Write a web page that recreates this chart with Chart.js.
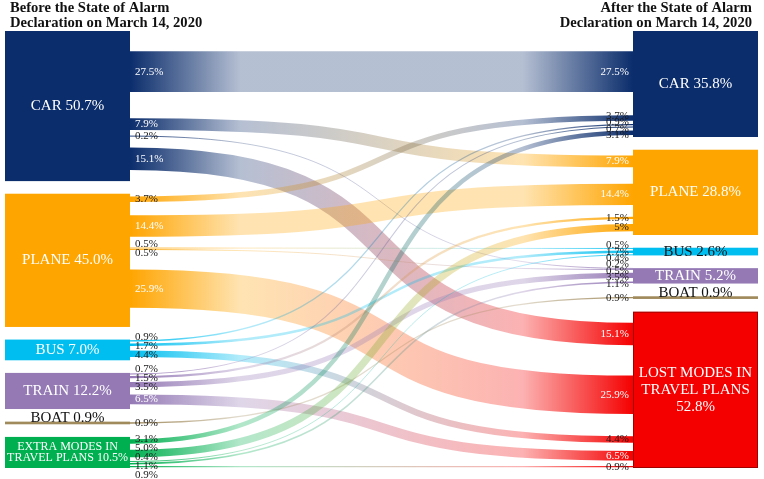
<!DOCTYPE html>
<html><head><meta charset="utf-8">
<script src="https://cdn.jsdelivr.net/npm/chart.js@4.4.1/dist/chart.umd.min.js"></script>
<style>html,body{margin:0;padding:0;background:#fff}#wrap{width:764px;height:479px;position:relative}</style>
</head><body><div id="wrap"><canvas id="c"></canvas></div>
<script>
// ---- data ----
const beforeTitle = ['Before the State of Alarm', 'Declaration on March 14, 2020'];
const afterTitle = ['After the State of Alarm', 'Declaration on March 14, 2020'];
const beforeNodes = ['CAR', 'PLANE', 'BUS', 'TRAIN', 'BOAT', 'EXTRA MODES IN\nTRAVEL PLANS'];
const beforeValues = [50.7, 45.0, 7.0, 12.2, 0.9, 10.5];
const afterNodes = ['CAR', 'PLANE', 'BUS', 'TRAIN', 'BOAT', 'LOST MODES IN\nTRAVEL PLANS\n'];
const afterValues = [35.8, 28.8, 2.6, 5.2, 0.9, 52.8];
const flowFrom = [0,0,0,0, 1,1,1,1,1, 2,2,2, 3,3,3,3, 4, 5,5,5,5,5];
const flowTo   = [0,1,3,5, 0,1,2,3,5, 0,2,5, 0,1,3,5, 4, 0,1,2,3,5];
const flowValues = [27.5,7.9,0.2,15.1, 3.7,14.4,0.5,0.5,25.9, 0.9,1.7,4.4, 0.7,1.5,3.5,6.5, 0.9, 3.1,5.0,0.4,1.1,0.9];
const flowTargetText = {18: '5%'};

// ---- style ----
const beforeColors = ['#0b2d6c', '#ffa500', '#00bff0', '#9479b5', '#a08a5c', '#00b050'];
const afterColors  = ['#0b2d6c', '#ffa500', '#00bff0', '#9479b5', '#a08a5c', '#f50000'];
const beforeTextColors = ['#fff','#fff','#fff','#fff','#111','#fff'];
const afterTextColors  = ['#fff','#fff','#111','#fff','#111','#fff'];
const afterBorders = [null, null, null, null, null, 'rgba(0,0,0,0.35)'];
const Y_MAX = 147.6, NODE_W = 16.6, SERIF = '"Liberation Serif", "Times New Roman", serif';

function rgba(hex, a){
  const n = parseInt(hex.slice(1), 16);
  return `rgba(${n>>16},${(n>>8)&255},${n&255},${a})`;
}
function starts(values){
  const sum = values.reduce((a,b)=>a+b,0);
  const gap = (Y_MAX - sum) / (values.length - 1);
  const s = []; let acc = 0;
  values.forEach(v => { s.push(acc); acc += v + gap; });
  return s;
}
function relax(items, d){
  items.sort((a,b)=>a.y-b.y);
  for (let it=0; it<200; it++){
    let moved=false;
    for (let i=1;i<items.length;i++){
      const diff = items[i].y - items[i-1].y;
      if (diff < d - 0.01){ const p=(d-diff)/2; items[i].y+=p; items[i-1].y-=p; moved=true; }
    }
    if(!moved) break;
  }
}

const sankeyPlugin = {
  id: 'sankey',
  afterDatasetsDraw(chart){
    const ctx = chart.ctx, xs = chart.scales.x, ys = chart.scales.y;
    const bStart = starts(beforeValues), aStart = starts(afterValues);
    const outOff = beforeValues.map(()=>0), inOff = afterValues.map(()=>0);
    const x0 = xs.getPixelForValue(NODE_W), x1 = xs.getPixelForValue(100 - NODE_W);
    const w = x1 - x0;
    const unit = Math.abs(ys.getPixelForValue(1) - ys.getPixelForValue(0));
    const leftLabels = beforeValues.map(()=>[]), rightLabels = afterValues.map(()=>[]);
    ctx.save();
    flowValues.forEach((v, i) => {
      const f = flowFrom[i], t = flowTo[i];
      const sc = bStart[f] + outOff[f] + v/2; outOff[f] += v;
      const tc = aStart[t] + inOff[t] + v/2; inOff[t] += v;
      const y0 = ys.getPixelForValue(sc), y1 = ys.getPixelForValue(tc);
      const th = Math.max(0.9, v * unit * 0.5);
      const g = ctx.createLinearGradient(x0, 0, x1, 0);
      g.addColorStop(0, rgba(beforeColors[f], 1));
      g.addColorStop(0.22, rgba(beforeColors[f], 0.3));
      g.addColorStop(0.78, rgba(afterColors[t], 0.3));
      g.addColorStop(1, rgba(afterColors[t], 1));
      ctx.beginPath();
      ctx.moveTo(x0, y0);
      ctx.bezierCurveTo(x0 + 0.65*w, y0, x1 - 0.65*w, y1, x1, y1);
      ctx.lineWidth = th; ctx.lineCap = 'butt'; ctx.strokeStyle = g; ctx.stroke();
      const col = v >= 6 ? '#fff' : '#1a1a1a';
      leftLabels[f].push({y: y0, text: v.toFixed(1) + '%', col});
      rightLabels[t].push({y: y1, text: flowTargetText[i] || (v.toFixed(1) + '%'), col});
    });
    // nodes
    const drawNodes = (vals, st, colors, xa, xb, names, tcols, borders) => {
      vals.forEach((v, i) => {
        const top = ys.getPixelForValue(st[i]), bot = ys.getPixelForValue(st[i] + v);
        const L = xs.getPixelForValue(xa), R = xs.getPixelForValue(xb);
        ctx.fillStyle = colors[i];
        ctx.fillRect(L, top, R - L, bot - top);
        if (borders && borders[i]) { ctx.strokeStyle = borders[i]; ctx.lineWidth = 1; ctx.strokeRect(L + 0.5, top + 0.5, R - L - 1, bot - top - 1); }
        const label = names[i] + (names[i].endsWith('\n') ? '' : ' ') + v.toFixed(1) + '%';
        const lines = label.split('\n');
        const small = lines.length === 2;
        const fs = small ? 12 : 15, lh = small ? 11.5 : 17;
        ctx.font = `${fs}px ${SERIF}`;
        ctx.fillStyle = tcols[i]; ctx.textAlign = 'center';
        const cx = (L + R) / 2;
        if (bot - top < 4) {
          ctx.textBaseline = 'alphabetic';
          ctx.fillText(lines[0], cx, top + 0.5);
        } else {
          ctx.textBaseline = 'middle';
          const cy = (top + bot) / 2;
          lines.forEach((ln, k) => ctx.fillText(ln, cx, cy + (k - (lines.length-1)/2) * lh));
        }
      });
    };
    drawNodes(beforeValues, bStart, beforeColors, 0, NODE_W, beforeNodes, beforeTextColors, null);
    drawNodes(afterValues, aStart, afterColors, 100 - NODE_W, 100, afterNodes, afterTextColors, afterBorders);
    // flow labels
    ctx.font = `11px ${SERIF}`; ctx.textBaseline = 'middle';
    ctx.textAlign = 'left';
    leftLabels.forEach(arr => { relax(arr, 9); arr.forEach(l => { ctx.fillStyle = l.col; ctx.fillText(l.text, x0 + 5, l.y); }); });
    ctx.textAlign = 'right';
    rightLabels.forEach(arr => { relax(arr, 6.5); arr.forEach(l => { ctx.fillStyle = l.col; ctx.fillText(l.text, x1 - 4, l.y); }); });
    // titles
    ctx.fillStyle = '#111'; ctx.font = `bold 14.6px ${SERIF}`; ctx.textBaseline = 'alphabetic';
    ctx.textAlign = 'left';
    beforeTitle.forEach((t, k) => ctx.fillText(t, 10, 12 + k*15));
    ctx.textAlign = 'right';
    afterTitle.forEach((t, k) => ctx.fillText(t, 752, 12 + k*15));
    ctx.restore();
  }
};

new Chart(document.getElementById('c'), {
  type: 'scatter',
  data: { datasets: [{ data: [], pointRadius: 0 }] },
  options: {
    responsive: true, maintainAspectRatio: false, animation: false,
    layout: { padding: { left: 5, right: 6, top: 31, bottom: 11 } },
    plugins: { legend: { display: false }, tooltip: { enabled: false } },
    scales: {
      x: { type: 'linear', min: 0, max: 100, display: false },
      y: { type: 'linear', min: 0, max: Y_MAX, reverse: true, display: false }
    }
  },
  plugins: [sankeyPlugin]
});
</script></body></html>
